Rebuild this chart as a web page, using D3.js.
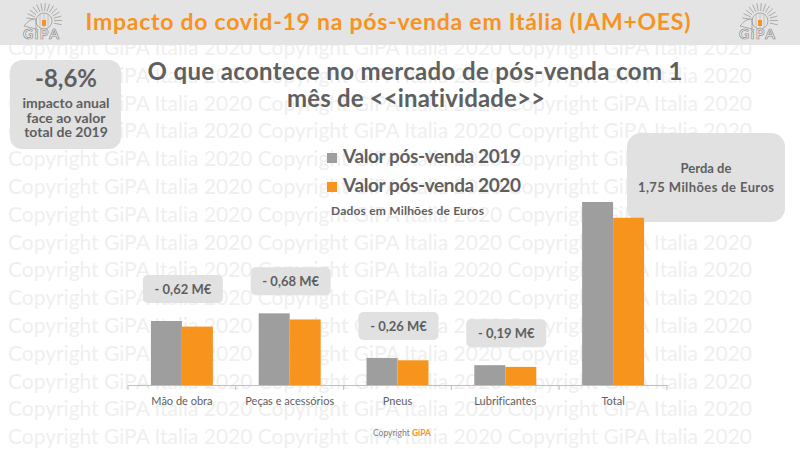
<!DOCTYPE html>
<html>
<head>
<meta charset="utf-8">
<script src="https://cdn.jsdelivr.net/npm/d3@7"></script>
<style>
  body { margin: 0; background: #fff; }
  svg { display: block; }
  text { font-family: Lato, "Open Sans", sans-serif; font-variant-ligatures: none; font-feature-settings: "liga" 0; }
</style>
</head>
<body>
<div id="chart"></div>
<script>
// données (millions d'euros)
const categories = ["Mão de obra", "Peças e acessórios", "Pneus", "Lubrificantes", "Total"];
const valores2019 = [7.1, 7.95, 3.0, 2.2, 20.3];
const valores2020 = [6.48, 7.27, 2.74, 2.01, 18.55];
const perdaLabels = ["- 0,62 M€", "- 0,68 M€", "- 0,26 M€", "- 0,19 M€"];
const seriesNames = ["Valor pós-venda 2019", "Valor pós-venda 2020"];
const seriesColors = ["#9e9e9e", "#f7941d"];

const width = 800;
const height = 450;
const textGray = "#5f5f5f";
const boxGray = "#e1e1e1";

const svg = d3.select("#chart").append("svg")
    .attr("width", width)
    .attr("height", height);

// filigrane
const wm = svg.append("g");
d3.range(15).forEach(k => {
    wm.append("text")
        .attr("x", 8)
        .attr("y", 55 + k * 27.8)
        .attr("textLength", 744)
        .attr("lengthAdjust", "spacingAndGlyphs")
        .style("font-size", "21px")
        .style("fill", "#efefef")
        .text("Copyright GiPA Italia 2020 Copyright GiPA Italia 2020 Copyright GiPA Italia 2020");
});

// bandeau
svg.append("rect")
    .attr("x", 0).attr("y", 0)
    .attr("width", width).attr("height", 45)
    .attr("fill", "#e4e4e4");

svg.append("text")
    .attr("x", 388)
    .attr("y", 30)
    .attr("text-anchor", "middle")
    .attr("textLength", 605)
    .style("font-size", "23px")
    .style("font-weight", "bold")
    .style("fill", "#f7931e")
    .text("Impacto do covid-19 na pós-venda em Itália (IAM+OES)");

// logo GiPA simplifié
function drawLogo(x0, y0) {
    const g = svg.append("g").attr("transform", `translate(${x0}, ${y0})`);
    const cx = 22, cy = 19;
    d3.range(-170, 25, 14).forEach(a => {
        const r = a * Math.PI / 180;
        g.append("line")
            .attr("x1", cx + 10 * Math.cos(r)).attr("y1", cy + 10 * Math.sin(r))
            .attr("x2", cx + 18 * Math.cos(r)).attr("y2", cy + 18 * Math.sin(r))
            .attr("stroke", "#9a9a9a").attr("stroke-width", 0.8);
    });
    g.append("circle").attr("cx", cx).attr("cy", cy).attr("r", 8)
        .attr("fill", "none").attr("stroke", "#9a9a9a").attr("stroke-width", 0.8);
    [-4, 0, 4].forEach(d => {
        g.append("line").attr("x1", cx + d).attr("x2", cx + d)
            .attr("y1", cy - 7).attr("y2", cy + 7)
            .attr("stroke", "#b0b0b0").attr("stroke-width", 0.6);
    });
    g.append("path")
        .attr("d", `M${cx - 20},${cy + 5} Q${cx - 14},${cy - 3} ${cx - 8},${cy - 2} L${cx - 8},${cy + 8} Z`)
        .attr("fill", "none").attr("stroke", "#9a9a9a").attr("stroke-width", 0.8);
    g.append("rect").attr("x", cx - 2).attr("y", cy - 1).attr("width", 4).attr("height", 6)
        .attr("fill", "#f7931e");
    g.append("text")
        .attr("x", 1).attr("y", 37)
        .attr("textLength", 36)
        .style("font-size", "14px")
        .style("font-weight", "bold")
        .style("fill", "#fafafa")
        .style("stroke", "#8a8a8a")
        .style("stroke-width", 0.7)
        .text("GiPA");
}
drawLogo(22, 2);
drawLogo(738, 2);

// encadré gauche
svg.append("rect")
    .attr("x", 10).attr("y", 60)
    .attr("width", 111).attr("height", 89)
    .attr("rx", 12)
    .attr("fill", boxGray);

svg.append("text")
    .attr("x", 66).attr("y", 87)
    .attr("text-anchor", "middle")
    .style("font-size", "24px").style("font-weight", "bold").style("fill", textGray)
    .text("-8,6%");

["impacto anual", "face ao valor", "total de 2019"].forEach((t, i) => {
    svg.append("text")
        .attr("x", 66).attr("y", 108 + i * 14.5)
        .attr("text-anchor", "middle")
        .style("font-size", "14px").style("font-weight", "bold").style("fill", textGray)
        .text(t);
});

// sous-titre
svg.append("text")
    .attr("x", 415).attr("y", 80)
    .attr("text-anchor", "middle")
    .attr("textLength", 535)
    .style("font-size", "24px").style("font-weight", "bold").style("fill", textGray)
    .text("O que acontece no mercado de pós-venda com 1");

svg.append("text")
    .attr("x", 416).attr("y", 107)
    .attr("text-anchor", "middle")
    .attr("textLength", 258)
    .style("font-size", "24px").style("font-weight", "bold").style("fill", textGray)
    .text("mês de <<inatividade>>");

// légende
seriesNames.forEach((name, i) => {
    const ly = 163 + i * 29;
    svg.append("rect")
        .attr("x", 327).attr("y", ly - 10)
        .attr("width", 10).attr("height", 10)
        .attr("fill", seriesColors[i]);
    svg.append("text")
        .attr("x", 343).attr("y", ly)
        .attr("textLength", 178)
        .style("font-size", "19px").style("font-weight", "bold").style("fill", textGray)
        .text(name);
});

svg.append("text")
    .attr("x", 331).attr("y", 215)
    .attr("textLength", 153)
    .style("font-size", "12px").style("font-weight", "bold").style("fill", textGray)
    .text("Dados em Milhões de Euros");

// encadré droit
svg.append("rect")
    .attr("x", 627).attr("y", 133)
    .attr("width", 158).attr("height", 89)
    .attr("rx", 14)
    .attr("fill", boxGray);

svg.append("text")
    .attr("x", 706).attr("y", 173)
    .attr("text-anchor", "middle")
    .style("font-size", "13px").style("font-weight", "bold").style("fill", textGray)
    .text("Perda de");

svg.append("text")
    .attr("x", 706).attr("y", 192)
    .attr("text-anchor", "middle")
    .attr("textLength", 136)
    .style("font-size", "13px").style("font-weight", "bold").style("fill", textGray)
    .text("1,75 Milhões de Euros");

// graphique
const baseY = 385;
const x0 = d3.scaleBand().domain(categories).range([128, 667]).padding(0);
const bw = x0.bandwidth();
const x1 = d3.scaleBand().domain([0, 1]).range([bw * 0.2125, bw * 0.7875]).padding(0);
const y = d3.scaleLinear().domain([0, 20.3]).range([baseY, 202]);

const groups = svg.append("g")
    .selectAll("g")
    .data(categories)
    .enter()
    .append("g")
    .attr("transform", d => `translate(${x0(d)}, 0)`);

groups.selectAll("rect")
    .data((d, i) => [valores2019[i], valores2020[i]])
    .enter()
    .append("rect")
    .attr("x", (d, j) => x1(j))
    .attr("y", d => y(d))
    .attr("width", x1.bandwidth())
    .attr("height", d => baseY - y(d))
    .attr("fill", (d, j) => seriesColors[j]);

// axe
const axis = svg.append("g")
    .attr("transform", `translate(0, ${baseY})`)
    .call(d3.axisBottom(x0).tickSize(0).tickPadding(12));
axis.select(".domain").attr("stroke", "#bfbfbf");
axis.selectAll(".tick text")
    .style("font-family", "Lato, 'Open Sans', sans-serif")
    .style("font-size", "11px")
    .style("fill", textGray);

const bounds = categories.map(c => x0(c)).concat([x0(categories[categories.length - 1]) + bw]);
svg.append("g")
    .selectAll("line")
    .data(bounds)
    .enter()
    .append("line")
    .attr("x1", d => d).attr("x2", d => d)
    .attr("y1", baseY).attr("y2", baseY + 5)
    .attr("stroke", "#bfbfbf");

// étiquettes de perte
perdaLabels.forEach((lbl, i) => {
    const cx = x0(categories[i]) + bw / 2 + 1;
    const bottom = y(valores2019[i]) - 18;
    svg.append("rect")
        .attr("x", cx - 40).attr("y", bottom - 28)
        .attr("width", 80).attr("height", 28)
        .attr("rx", 5)
        .attr("fill", boxGray);
    svg.append("text")
        .attr("x", cx).attr("y", bottom - 9)
        .attr("text-anchor", "middle")
        .style("font-size", "13px").style("font-weight", "bold").style("fill", textGray)
        .text(lbl);
});

// pied de page
const foot = svg.append("text")
    .attr("x", 373).attr("y", 436)
    .style("font-size", "8.5px");
foot.append("tspan").style("fill", "#7f7f7f").text("Copyright ");
foot.append("tspan").style("fill", "#f7931e").style("font-weight", "bold").text("GiPA");
</script>
</body>
</html>
